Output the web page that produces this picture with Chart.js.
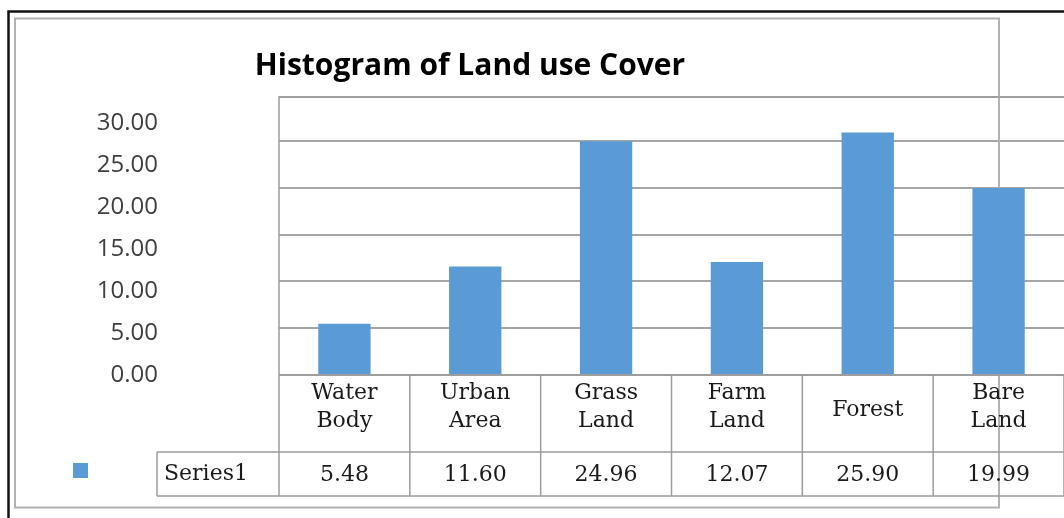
<!DOCTYPE html>
<html>
<head>
<meta charset="utf-8">
<title>Histogram of Land use Cover</title>
<script src="https://cdn.jsdelivr.net/npm/chart.js@4.4.1/dist/chart.umd.min.js"></script>
<style>
  html, body { margin: 0; padding: 0; background: #fff; overflow: hidden; }
</style>
</head>
<body>
<canvas id="landChart" width="1064" height="518"></canvas>
<script>
// values
const categories = [['Water', 'Body'], ['Urban', 'Area'], ['Grass', 'Land'], ['Farm', 'Land'], ['Forest'], ['Bare', 'Land']];
const series1 = [5.48, 11.60, 24.96, 12.07, 25.90, 19.99];
const yTickValues = [0, 5, 10, 15, 20, 25, 30];
const seriesName = 'Series1';
const chartTitle = 'Histogram of Land use Cover';

const barBlue = '#5b9bd5';
const gridGray = '#a6a6a6';
const tableGray = '#9c9c9c';
const serifFont = '"DejaVu Serif", "Liberation Serif", serif';

// frame, title and the data table that Excel puts under the axis
const tablePlugin = {
    id: 'excelTable',
    beforeDatasetsDraw(chart) {
        const ctx = chart.ctx;
        ctx.save();
        // gray chart frame (sits under the bars)
        ctx.strokeStyle = '#b2b2b2';
        ctx.lineWidth = 2;
        ctx.strokeRect(15, 18.5, 984, 489);
        ctx.restore();
    },
    afterDatasetsDraw(chart) {
        const ctx = chart.ctx;
        const area = chart.chartArea;
        const x = chart.scales.x;
        const colW = (x.right - x.left) / categories.length;
        const rowTop = area.bottom;
        const rowMid = 452;
        const rowBot = 496;

        ctx.save();
        // black outer border
        ctx.strokeStyle = '#111';
        ctx.lineWidth = 2.5;
        ctx.beginPath();
        ctx.moveTo(8.5, 518);
        ctx.lineTo(8.5, 11.5);
        ctx.lineTo(1064, 11.5);
        ctx.stroke();

        // plot border + table grid
        ctx.strokeStyle = tableGray;
        ctx.lineWidth = 1.5;
        ctx.beginPath();
        ctx.moveTo(area.right, area.top);
        ctx.lineTo(area.left, area.top);
        ctx.lineTo(area.left, rowBot);
        ctx.moveTo(area.left, rowTop);
        ctx.lineTo(area.right, rowTop);
        ctx.moveTo(157, rowMid);
        ctx.lineTo(area.right, rowMid);
        ctx.moveTo(157, rowBot);
        ctx.lineTo(area.right, rowBot);
        ctx.moveTo(157, rowMid);
        ctx.lineTo(157, rowBot);
        categories.forEach((c, i) => {
            const edge = x.getPixelForValue(i) + colW / 2;
            ctx.moveTo(edge, rowTop);
            ctx.lineTo(edge, rowBot);
        });
        ctx.stroke();

        // category names and values
        ctx.fillStyle = '#1a1a1a';
        ctx.font = '22px ' + serifFont;
        ctx.textAlign = 'center';
        ctx.textBaseline = 'middle';
        categories.forEach((c, i) => {
            const cx = x.getPixelForValue(i);
            if (c.length === 1) {
                ctx.fillText(c[0], cx, 410);
            } else {
                ctx.fillText(c[0], cx, 393);
                ctx.fillText(c[1], cx, 421);
            }
            ctx.fillText(series1[i].toFixed(2), cx, 475);
        });
        ctx.textAlign = 'left';
        ctx.fillText(seriesName, 164, 474);

        // legend key
        ctx.fillStyle = barBlue;
        ctx.fillRect(73, 463, 15, 15);

        // title
        ctx.fillStyle = '#000';
        ctx.font = 'bold 30px "Open Sans", sans-serif';
        ctx.textAlign = 'center';
        ctx.textBaseline = 'middle';
        ctx.fillText(chartTitle, 470, 66);
        ctx.restore();
    }
};

const chart = new Chart(document.getElementById('landChart'), {
    type: 'bar',
    data: {
        labels: categories.map(c => c.join(' ')),
        datasets: [{
            label: seriesName,
            data: series1,
            backgroundColor: barBlue,
            borderWidth: 0,
            barPercentage: 0.4,
            categoryPercentage: 1.0,
            yAxisID: 'y'
        }]
    },
    options: {
        responsive: false,
        animation: false,
        layout: { padding: { top: 97, left: 0, right: 0, bottom: 0 } },
        plugins: {
            legend: { display: false },
            title: { display: false },
            tooltip: { enabled: false }
        },
        scales: {
            x: {
                grid: { display: false },
                border: { display: false },
                ticks: { display: false },
                afterFit: s => { s.height = 143; }
            },
            y: {
                position: 'left',
                min: 0,
                max: 29.7,
                ticks: { display: false, stepSize: 5 },
                grid: { color: gridGray, lineWidth: 2, drawTicks: false },
                border: { display: false },
                afterFit: s => { s.width = 121; }
            },
            yl: {
                position: 'left',
                min: 0,
                max: 33.1,
                grid: { display: false, drawTicks: false },
                border: { display: false },
                afterBuildTicks: s => { s.ticks = yTickValues.map(v => ({ value: v })); },
                ticks: {
                    padding: 0,
                    color: '#404040',
                    font: { family: '"Open Sans", sans-serif', size: 24 },
                    callback: v => Number(v).toFixed(2)
                },
                afterFit: s => { s.width = 158; }
            }
        }
    },
    plugins: [tablePlugin]
});
</script>
</body>
</html>
